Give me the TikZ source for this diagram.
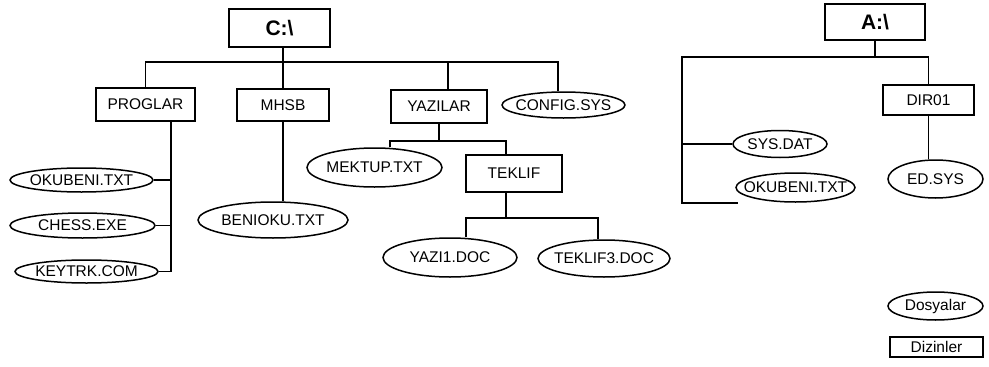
\documentclass[tikz,border=0pt]{standalone}
\usepackage{fontspec}
\setmainfont{Liberation Sans}
\usetikzlibrary{shapes.geometric}
\tikzset{
   dal/.style={line width=1.5pt},
   dizin/.style={draw, dal, rectangle, inner sep=0pt},
   dosya/.style={draw, dal, ellipse, inner sep=0pt},
   kok/.style={dizin, font=\bfseries\fontsize{21}{24}\selectfont},
    }
\newcommand{\ad}[1]{\makebox[0pt]{#1}}

\begin{document}
\begin{tikzpicture}[x=1pt, y=-1pt, font=\fontsize{15.5}{18}\selectfont]
            \useasboundingbox (0,0) rectangle (989,367);
            \node[kok, minimum width=101pt, minimum height=38pt] (c) at (279.5,28) {C:\textbackslash};
            \node[dizin, minimum width=99pt, minimum height=33pt] (proglar) at (145.5,104.5) {PROGLAR};
            \node[dizin, minimum width=92pt, minimum height=32pt] (mhsb) at (283,105) {MHSB};
            \node[dizin, minimum width=96pt, minimum height=33pt] (yazilar) at (439,106.5) {YAZILAR};
            \node[dosya, minimum width=123pt, minimum height=26pt] (config) at (563.5,105) {\ad{CONFIG.SYS}};
            \node[dosya, minimum width=143pt, minimum height=24pt] (okubeni) at (81.5,180) {\ad{OKUBENI.TXT}};
            \node[dosya, minimum width=145pt, minimum height=25pt] (chess) at (82.5,225.5) {\ad{CHESS.EXE}};
            \node[dosya, minimum width=143pt, minimum height=23pt] (keytrk) at (86.5,271.5) {\ad{KEYTRK.COM}};
            \node[dosya, minimum width=150pt, minimum height=36pt] (benioku) at (273,220) {\ad{BENIOKU.TXT}};
            \node[dosya, minimum width=135pt, minimum height=39pt] (mektup) at (374.5,167.5) {\ad{MEKTUP.TXT}};
            \node[dizin, minimum width=96pt, minimum height=37pt] (teklif) at (514,173.5) {TEKLIF};
            \node[dosya, minimum width=134pt, minimum height=39pt] (yazi1) at (450,257.5) {\ad{YAZI1.DOC}};
            \node[dosya, minimum width=132pt, minimum height=37pt] (teklif3) at (604,258.5) {\ad{TEKLIF3.DOC}};

            \node[kok, minimum width=100pt, minimum height=36pt] (a) at (875,22) {A:\textbackslash};
            \node[dizin, minimum width=91pt, minimum height=30pt] (dir01) at (928.5,100) {DIR01};
            \node[dosya, minimum width=94pt, minimum height=27pt] (sysdat) at (780,144) {\ad{SYS.DAT}};
            \node[dosya, minimum width=119pt, minimum height=29pt] (okubeniA) at (795.5,187.5) {\ad{OKUBENI.TXT}};
            \node[dosya, minimum width=95pt, minimum height=38pt] (edsys) at (935.5,179) {\ad{ED.SYS}};

            \node[dosya, minimum width=95pt, minimum height=28pt] (dosyalar) at (935.5,306) {\ad{Dosyalar}};
            \node[dizin, minimum width=93pt, minimum height=20pt] (dizinler) at (936.5,347) {Dizinler};

            \coordinate (cL) at (146,62);
            \coordinate (cR) at (558,62);
            \draw[dal] (proglar.north) -- (proglar.north |- cL) -- (cR) -- (cR |- config.north);
            \draw[dal] (c.south -| mhsb.north) -- (mhsb.north);
            \draw[dal] ([xshift=9pt]yazilar.north) -- ([xshift=9pt]yazilar.north |- cR);
            \draw[dal] ([xshift=25.5pt]proglar.south) coordinate (pbus) |- (keytrk.east);
            \draw[dal] (okubeni.east) -- (okubeni.east -| pbus);
            \draw[dal] (chess.east) -- (chess.east -| pbus);
            \draw[dal] (mhsb.south) -- (mhsb.south |- benioku.north);
            \coordinate (ybus) at (439,141);
            \draw[dal] (yazilar.south) -- (ybus);
            \draw[dal] ([xshift=15.5pt]mektup.north) |- (ybus) -| ([xshift=-8pt]teklif.north);
            \coordinate (tbus) at (506,218);
            \draw[dal] ([xshift=-8pt]teklif.south) -- (tbus);
            \draw[dal] ([xshift=16pt]yazi1.north) |- (tbus) -| ([xshift=-6pt]teklif3.north);

            \coordinate (aL) at (682,57);
            \draw[dal] (a.south) -- (a.south |- aL);
            \draw[dal] (dir01.north) |- (aL) -- (aL |- okubeniA.south) -- ([xshift=-58pt]okubeniA.south);
            \draw[dal] (aL |- sysdat.west) -- (sysdat.west);
            \draw[dal] (dir01.south) -- (dir01.south |- edsys.north);
        \end{tikzpicture}
\end{document}
